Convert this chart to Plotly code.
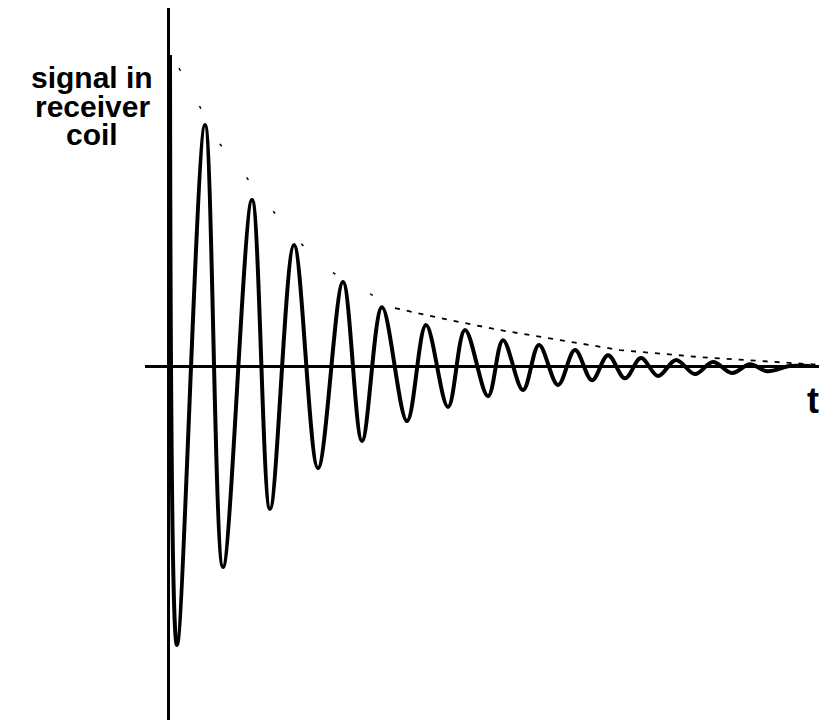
import plotly.graph_objects as go

# Damped oscillation (free induction decay): extrema of the signal
t_extrema = [0.2, 0.9, 3.7, 5.5, 8.4, 10.2, 12.6, 15.0, 17.5, 19.4, 21.4, 23.9,
             25.8, 28.0, 29.7, 32.0, 33.5, 35.5, 37.1, 39.0, 40.7, 42.4, 44.0,
             45.7, 47.3, 49.0, 50.8, 52.7, 54.5, 56.4, 58.2, 59.9, 62.2, 64.2]
signal_extrema = [97.2, -87.2, 75.3, -62.8, 51.9, -44.7, 37.8, -31.9, 26.3, -23.4,
                  18.4, -17.2, 12.8, -12.8, 11.3, -9.4, 8.1, -7.5, 6.6, -5.9, 5.0,
                  -4.4, 3.4, -3.8, 2.5, -3.1, 1.9, -2.5, 1.25, -2.2, 0.6, -1.6, 0.0, 0.0]

# faint dotted envelope traces visible in the scan
t_env_early = [1.1, 5.2, 12.1, 15.7, 22.7]
env_early = [93.1, 69.4, 42.2, 30.6, 18.1]
t_env_late = [22.7, 27.2, 33.2, 39.2, 45.2, 53.2, 61.2, 65.1]
env_late = [18.1, 15.0, 11.25, 8.1, 5.0, 2.8, 1.25, 0.4]

y_label_lines = ["signal in", "receiver", "coil"]
x_label = "t"

fig = go.Figure()
fig.add_trace(go.Scatter(x=t_env_early, y=env_early, mode="lines",
                         line=dict(color="black", width=1.5, dash="3px,40px"),
                         hoverinfo="skip"))
fig.add_trace(go.Scatter(x=t_env_late, y=env_late, mode="lines",
                         line=dict(color="black", width=1.8, dash="5px,7px"),
                         hoverinfo="skip"))
fig.add_trace(go.Scatter(x=t_extrema, y=signal_extrema, mode="lines",
                         line=dict(color="black", width=4, shape="spline", smoothing=1.0),
                         hoverinfo="skip"))

# the page body has an 8px default margin on every side; size the figure so the page
# fits the 827x728 window exactly (no scrollbars)
OFF = 8
W, H = 827 - 2 * OFF, 728 - 2 * OFF
L, R, T, B = 145 - OFF, 0, 0, 0
pw, ph = W - L - R, H - T - B

def px_paper_x(px):
    return (px - OFF - L) / pw

def px_paper_y(py):
    return (H - B - (py - OFF)) / ph

annos = []
for txt, yc in zip(y_label_lines, [78, 107, 134]):
    annos.append(dict(text="<b>%s</b>" % txt, xref="paper", yref="paper",
                      x=px_paper_x(92), y=px_paper_y(yc), xanchor="center", yanchor="middle",
                      showarrow=False,
                      font=dict(family="Liberation Sans, Arial, sans-serif", size=30, color="black")))
annos.append(dict(text="<b>%s</b>" % x_label, xref="paper", yref="paper",
                  x=px_paper_x(813), y=px_paper_y(401), xanchor="center", yanchor="middle",
                  showarrow=False,
                  font=dict(family="Liberation Sans, Arial, sans-serif", size=36, color="black")))

fig.update_layout(
    width=W, height=H,
    margin=dict(l=L, r=R, t=T, b=B, pad=0),
    paper_bgcolor="white", plot_bgcolor="white",
    showlegend=False,
    annotations=annos,
    xaxis=dict(range=[-2.3, 65.1], showgrid=False, showticklabels=False, ticks="",
               showline=False, zeroline=True, zerolinecolor="black", zerolinewidth=3),
    yaxis=dict(range=[-110.6, 111.9], showgrid=False, showticklabels=False, ticks="",
               showline=False, zeroline=True, zerolinecolor="black", zerolinewidth=3),
)

fig.write_html("out.html")
